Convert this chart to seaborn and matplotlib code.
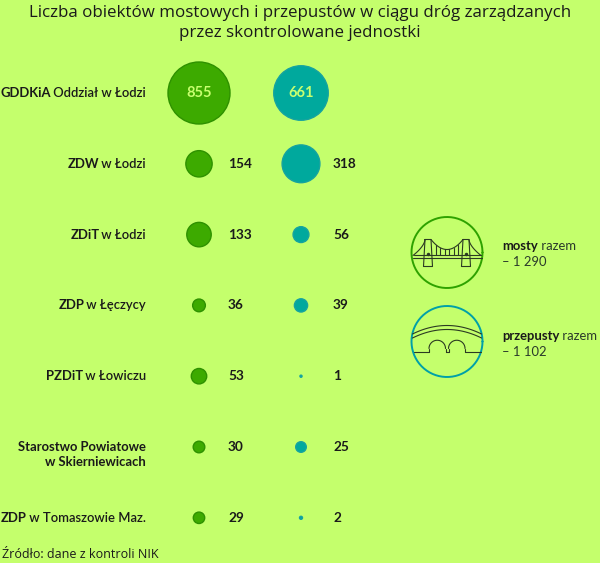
import numpy as np
import pandas as pd
import matplotlib
matplotlib.use("Agg")
import matplotlib.pyplot as plt
import seaborn as sns

# ---- data ----
units_bold = ["GDDKiA", "ZDW", "ZDiT", "ZDP", "PZDiT", "Starostwo Powiatowe\nw Skierniewicach", "ZDP"]
units_rest = [" Oddział w Łodzi", " w Łodzi", " w Łodzi", " w Łęczycy", " w Łowiczu", "", " w Tomaszowie Maz."]
mosty = [855, 154, 133, 36, 53, 30, 29]
przepusty = [661, 318, 56, 39, 1, 25, 2]
legend_bold = ["mosty", "przepusty"]
legend_rest = [" razem", " razem"]
legend_totals = ["– 1 290", "– 1 102"]
title = "Liczba obiektów mostowych i przepustów w ciągu dróg zarządzanych\nprzez skontrolowane jednostki"
source = "Źródło: dane z kontroli NIK"

# ---- style ----
BG = "#C4FF6C"
GREEN = "#3DAA00"
GREEN_EDGE = "#2E9100"
TEAL = "#00A99D"
TEAL_EDGE = "#16A3A0"
TXT = "#1a1a1a"
ICON = "#2b3a22"
LAB_FONT = ["Lato", "DejaVu Sans"]
FS = 9.4

sns.set_theme(style="white")
plt.rcParams["font.family"] = ["Open Sans", "DejaVu Sans"]

fig = plt.figure(figsize=(6.0, 5.63), dpi=100)
fig.patch.set_facecolor(BG)
ax = fig.add_axes([0, 0, 1, 1])
ax.set_facecolor(BG)

row_y0, row_dy = 93, 70.8
ys = [row_y0 + i * row_dy for i in range(len(mosty))]
x_green, x_teal = 199, 301
x_label = 146

df = pd.DataFrame({
    "y": ys * 2,
    "x": [x_green] * len(mosty) + [x_teal] * len(przepusty),
    "value": mosty + przepusty,
    "kind": ["mosty"] * len(mosty) + ["przepusty"] * len(przepusty),
})

max_val = max(mosty)
max_s = (62 * 72 / 100) ** 2
for kind, col, edge in [("mosty", GREEN, GREEN_EDGE), ("przepusty", TEAL, TEAL_EDGE)]:
    sub = df[df.kind == kind]
    sns.scatterplot(data=sub, x="x", y="y", size="value", sizes=(0, max_s),
                    size_norm=(0, max_val), color=col, edgecolor=edge,
                    linewidth=1, legend=False, ax=ax, zorder=3)
ax.set_xlim(0, 600)
ax.set_ylim(563, 0)
ax.axis("off")

# value labels
for i, (m, p, y) in enumerate(zip(mosty, przepusty, ys)):
    if i == 0:
        for xv, v in ((x_green, m), (x_teal, p)):
            ax.text(xv, y, str(v), ha="center", va="center", fontsize=10.5,
                    fontweight="bold", color="#C8FF70", zorder=4, family=LAB_FONT)
    else:
        ax.text(228, y, str(m), ha="left", va="center", fontsize=FS + 0.4,
                fontweight="bold", color=TXT, family=LAB_FONT)
        ax.text(333, y, str(p), ha="left", va="center", fontsize=FS + 0.4,
                fontweight="bold", color=TXT, family=LAB_FONT)

fig.canvas.draw()
renderer = fig.canvas.get_renderer()

# unit labels (bold acronym + semibold rest)
for b, r, y in zip(units_bold, units_rest, ys):
    if r:
        t = ax.text(x_label, y, r, ha="right", va="center", fontsize=FS,
                    fontweight="semibold", color=TXT, family=LAB_FONT)
        ext = t.get_window_extent(renderer)
        x0 = ax.transData.inverted().transform((ext.x0, ext.y0))[0]
        ax.text(x0 + 1, y, b, ha="right", va="center", fontsize=FS,
                fontweight="bold", color=TXT, family=LAB_FONT)
    else:
        ax.text(x_label, y - 6, b, ha="right", va="top", fontsize=FS,
                fontweight="bold", color=TXT, linespacing=1.25, family=LAB_FONT)

# title and source
ax.text(300, 23, title, ha="center", va="center", fontsize=12.2,
        color=TXT, linespacing=1.4)
ax.text(2, 554, source, ha="left", va="center", fontsize=9, color=TXT)

# ---- legend icons ----
cx, r_leg = 447, 35.5
cy_b, cy_c = 252.5, 341.5
th = np.linspace(0, 2 * np.pi, 200)
ax.plot(cx + r_leg * np.cos(th), cy_b + r_leg * np.sin(th), color="#2EA200", lw=1.4)
ax.plot(cx + r_leg * np.cos(th), cy_c + r_leg * np.sin(th), color="#00A0A8", lw=1.4)

# suspension bridge
lw_i = 0.8
deck = cy_b + 5
ax.plot([cx - r_leg + 1, cx + r_leg - 1], [deck, deck], color=ICON, lw=lw_i)
ax.plot([cx - r_leg + 2, cx + r_leg - 2], [deck - 2.5, deck - 2.5], color=ICON, lw=lw_i)
for tx in (cx - 19, cx + 19):
    ax.plot([tx - 3, tx - 4.5, tx + 4.5, tx + 3, tx - 3],
            [cy_b - 13, cy_b + 14, cy_b + 14, cy_b - 13, cy_b - 13], color=ICON, lw=lw_i)
    ax.plot([tx], [cy_b + 1.5], marker="o", ms=1.5, color=ICON)
xs_c = np.linspace(cx - 16, cx + 16, 50)
ax.plot(xs_c, cy_b - 13 + 10 * (1 - ((xs_c - cx) / 16) ** 2), color=ICON, lw=lw_i)
for sgn in (-1, 1):
    xs_s = np.linspace(0, 1, 30)
    xx = cx + sgn * (22 + 12 * xs_s)
    yy = cy_b - 13 + 16 * (xs_s ** 0.6)
    ax.plot(xx, yy, color=ICON, lw=lw_i)
for hx in np.linspace(cx - 11, cx + 11, 6):
    top = cy_b - 13 + 10 * (1 - ((hx - cx) / 16) ** 2)
    ax.plot([hx, hx], [top, deck - 2.5], color=ICON, lw=lw_i)

# culvert
for off in (0, 4):
    xs_a = np.linspace(cx - r_leg + 1, cx + r_leg - 1, 80)
    ax.plot(xs_a, cy_c - 16 + off + 9 * ((xs_a - cx) / r_leg) ** 2, color=ICON, lw=lw_i)
base = cy_c + 10
ax.plot([cx - r_leg + 2, cx - 18], [base, base], color=ICON, lw=lw_i)
ax.plot([cx - 1.5, cx + 1.5], [base, base], color=ICON, lw=lw_i)
ax.plot([cx + 18, cx + r_leg - 2], [base, base], color=ICON, lw=lw_i)
for acx in (cx - 9.75, cx + 9.75):
    ang = np.linspace(np.pi, 2 * np.pi, 40)
    ax.plot(acx + 8.25 * np.cos(ang), base - 3 + 8.25 * np.sin(ang), color=ICON, lw=lw_i)
    ax.plot([acx - 8.25, acx - 8.25], [base - 3, base], color=ICON, lw=lw_i)
    ax.plot([acx + 8.25, acx + 8.25], [base - 3, base], color=ICON, lw=lw_i)

# legend texts
for lb, lr, lt, cy in zip(legend_bold, legend_rest, legend_totals, (cy_b, cy_c)):
    t = ax.text(502, cy - 6, lb, ha="left", va="center", fontsize=FS,
                fontweight="bold", color=TXT, family=LAB_FONT)
    ext = t.get_window_extent(renderer)
    x1 = ax.transData.inverted().transform((ext.x1, ext.y0))[0]
    ax.text(x1, cy - 6, lr, ha="left", va="center", fontsize=FS,
            color="#2a3a2a", family=LAB_FONT)
    ax.text(502, cy + 10, lt, ha="left", va="center", fontsize=FS,
            color="#2a3a2a", family=LAB_FONT)

fig.savefig("out.png", dpi=100, facecolor=BG)
